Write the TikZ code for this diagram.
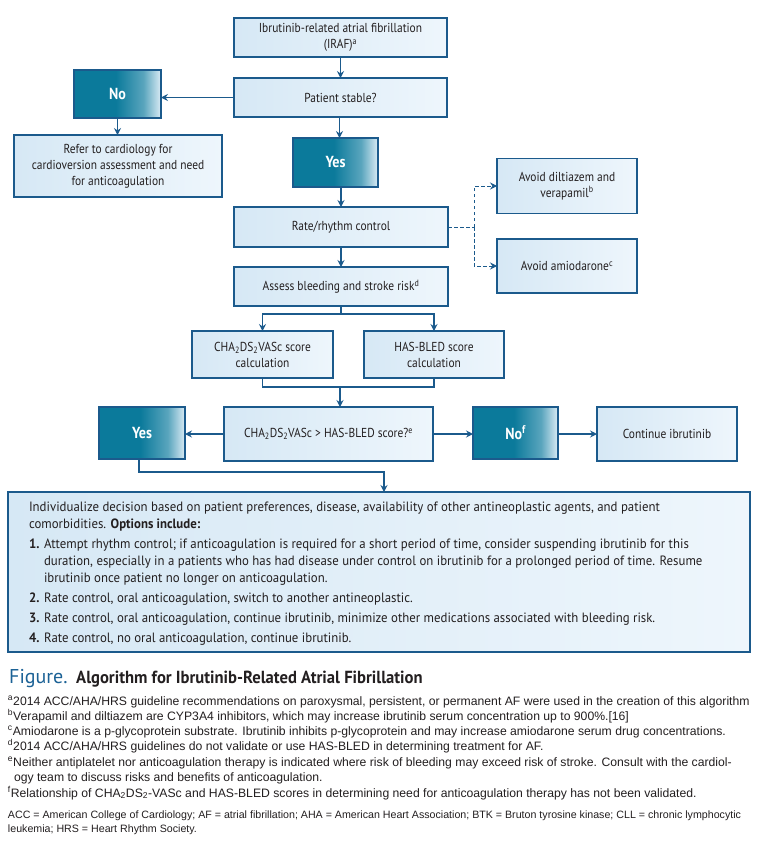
\documentclass[tikz,border=0pt]{standalone}
\usepackage{fontspec}
\setmainfont{PT Sans}
\newfontfamily\dfont[FakeStretch=0.88]{PT Sans}
\newfontfamily\efont[FakeStretch=0.95]{PT Sans}
\newfontfamily\ffont{Liberation Sans}
\newfontfamily\cfont[FakeStretch=0.95]{PT Sans}
\newfontfamily\gfont{PT Sans}
\usetikzlibrary{arrows.meta,calc}
\definecolor{bcol}{RGB}{27,90,140}
\definecolor{tealc}{RGB}{11,122,155}
\definecolor{palec}{RGB}{218,235,245}
\colorlet{midc}{tealc!62!palec}
\definecolor{lightL}{RGB}{214,232,245}
\definecolor{lightR}{RGB}{238,246,252}
\definecolor{txt}{RGB}{35,31,32}
\definecolor{figblue}{RGB}{28,98,150}
\pgfdeclarehorizontalshading{darkgrad}{100bp}{color(0bp)=(tealc); color(25bp)=(tealc); color(49bp)=(tealc); color(65bp)=(midc); color(75bp)=(palec); color(100bp)=(palec)}
\tikzset{
 lbox/.style={draw=bcol, line width=1.2pt, left color=lightL, right color=lightR, inner sep=0pt, outer sep=0pt, align=center, font=\dfont\fontsize{13}{16}\selectfont, text=txt},
 dbox/.style={draw=bcol, line width=1.2pt, shade, shading=darkgrad, inner sep=0pt, outer sep=0pt, align=center, font=\dfont\bfseries\fontsize{16}{18}\selectfont, text=white},
 arr/.style={draw=bcol, line width=1.2pt, -{Stealth[length=7pt,width=7pt,inset=2.5pt]}},
 ln/.style={draw=bcol, line width=1.2pt},
 darr/.style={draw=bcol, line width=0.9pt, dash pattern=on 3.5pt off 2.5pt, -{Stealth[length=7pt,width=7pt,inset=2.5pt]}},
 dln/.style={draw=bcol, line width=0.9pt, dash pattern=on 3.5pt off 2.5pt},
 bl/.style={anchor=base west, inner sep=0pt, outer sep=0pt, font=\efont\fontsize{13.5}{16}\selectfont, text=txt},
 fl/.style={anchor=base west, inner sep=0pt, outer sep=0pt, font=\ffont\fontsize{12.2}{14}\selectfont, text=txt},
 al/.style={anchor=base west, inner sep=0pt, outer sep=0pt, font=\ffont\fontsize{10.65}{12}\selectfont, text=txt},
}
\begin{document}
\begin{tikzpicture}[x=1pt,y=-1pt]
\fill[white] (0,0) rectangle (761,841);
\useasboundingbox (0,0) rectangle (761,841);
% boxes
\node[lbox, minimum width=213pt, minimum height=39pt] (iraf) at (340.5,37.5) {Ibrutinib-related atrial fibrillation\\(IRAF)\textsuperscript{a}};
\node[lbox, minimum width=213pt, minimum height=39pt] (stable) at (340.5,97.5) {Patient stable?};
\node[dbox, minimum width=87pt, minimum height=48pt] (no1) at (117.5,94) {No};
\node[lbox, minimum width=208pt, minimum height=62pt] (refer) at (118,166) {Refer to cardiology for\\cardioversion assessment and need\\for anticoagulation};
\node[dbox, minimum width=85pt, minimum height=49pt] (yes1) at (335.5,162.5) {Yes};
\node[lbox, minimum width=214pt, minimum height=40pt] (rate) at (341,227) {Rate/rhythm control};
\node[lbox, minimum width=214pt, minimum height=39pt] (assess) at (341,286.5) {Assess bleeding and stroke risk\textsuperscript{d}};
\node[lbox, minimum width=140pt, minimum height=55pt] (dil) at (567,186) {Avoid diltiazem and\\verapamil\textsuperscript{b}};
\node[lbox, minimum width=140pt, minimum height=54pt] (amio) at (567,266) {Avoid amiodarone\textsuperscript{c}};
\node[lbox, minimum width=141pt, minimum height=47pt] (cha) at (262.5,354.5) {CHA\textsubscript{2}DS\textsubscript{2}VASc score\\calculation};
\node[lbox, minimum width=140pt, minimum height=47pt] (has) at (434,354.5) {HAS-BLED score\\calculation};
\node[lbox, minimum width=209pt, minimum height=54pt] (dec) at (328.5,434) {CHA\textsubscript{2}DS\textsubscript{2}VASc > HAS-BLED score?\textsuperscript{e}};
\node[dbox, minimum width=86pt, minimum height=52pt] (yes2) at (142,433) {Yes};
\node[dbox, minimum width=85pt, minimum height=52pt] (no2) at (515.5,433) {No\textsuperscript{f}};
\node[lbox, minimum width=140pt, minimum height=54pt] (cont) at (667,434) {Continue ibrutinib};
\node[lbox, minimum width=742pt, minimum height=160pt] (big) at (379,572) {};
% connectors
\draw[arr] (iraf.south) -- (stable.north);
\draw[arr] (stable.west) -- (stable.west -| no1.east);
\draw[arr] (no1.south) -- (no1.south |- refer.north);
\draw[arr] ([xshift=-1pt]stable.south) -- ([xshift=-1pt]stable.south |- yes1.north);
\draw[arr] (rate.north |- yes1.south) -- (rate.north);
\draw[dln] (rate.east) -- ++(26,0) coordinate (dj);
\draw[darr] (dj) |- (dil.west);
\draw[darr] (dj) |- (amio.west);
\draw[arr] (rate.south) -- (assess.north);
\draw[ln] (assess.south) -- ++(0,8) coordinate (sp);
\draw[arr] (sp) -| (cha.north);
\draw[arr] (sp) -| (has.north);
\coordinate (mg) at (340,387);
\draw[ln] (cha.south) |- (mg) -| (has.south);
\draw[arr] (mg) -- (mg |- dec.north);
\draw[arr] (dec.west) -- (dec.west -| yes2.east);
\draw[arr] (dec.east) -- (dec.east -| no2.west);
\draw[arr] (no2.east |- cont.west) -- (cont.west);
\coordinate (jn) at (384,472);
\draw[arr] ([xshift=-3pt]yes2.south) |- (jn) -- (jn |- big.north);
% big box text
\node[bl] (t1) at (29,511) {Individualize decision based on patient preferences, disease, availability of other antineoplastic agents, and patient};
\node[bl] (t2) at (29,528) {comorbidities. \textbf{Options include:}};
\node[bl] (n1) at (29,548) {\textbf{1.}};
\node[bl] (t3) at (44,548) {Attempt rhythm control; if anticoagulation is required for a short period of time, consider suspending ibrutinib for this};
\node[bl] (t4) at (44,565) {duration, especially in a patients who has had disease under control on ibrutinib for a prolonged period of time. Resume};
\node[bl] (t5) at (44,582) {ibrutinib once patient no longer on anticoagulation.};
\node[bl] (n2) at (29,602) {\textbf{2.}};
\node[bl] (t6) at (44,602) {Rate control, oral anticoagulation, switch to another antineoplastic.};
\node[bl] (n3) at (29,622) {\textbf{3.}};
\node[bl] (t7) at (44,622) {Rate control, oral anticoagulation, continue ibrutinib, minimize other medications associated with bleeding risk.};
\node[bl] (n4) at (29,642) {\textbf{4.}};
\node[bl] (t8) at (44,642) {Rate control, no oral anticoagulation, continue ibrutinib.};
% caption
\node[anchor=base west, inner sep=0pt, text=figblue, font=\gfont\fontsize{20}{22}\selectfont] (figl) at (9,683) {Figure.};
\node[anchor=base west, inner sep=0pt, text=txt, font=\cfont\bfseries\fontsize{17.5}{20}\selectfont] (figt) at (76,683) {Algorithm for Ibrutinib-Related Atrial Fibrillation};
% footnotes
\node[fl] (fa) at (8,705) {\textsuperscript{a}2014 ACC/AHA/HRS guideline recommendations on paroxysmal, persistent, or permanent AF were used in the creation of this algorithm};
\node[fl] (fb) at (8,720) {\textsuperscript{b}Verapamil and diltiazem are CYP3A4 inhibitors, which may increase ibrutinib serum concentration up to 900\%.[16]};
\node[fl] (fc) at (8,735) {\textsuperscript{c}Amiodarone is a p-glycoprotein substrate. Ibrutinib inhibits p-glycoprotein and may increase amiodarone serum drug concentrations.};
\node[fl] (fd) at (8,750) {\textsuperscript{d}2014 ACC/AHA/HRS guidelines do not validate or use HAS-BLED in determining treatment for AF.};
\node[fl] (fe) at (8,766) {\textsuperscript{e}Neither antiplatelet nor anticoagulation therapy is indicated where risk of bleeding may exceed risk of stroke. Consult with the cardiol-};
\node[fl] (fe2) at (14,781) {ogy team to discuss risks and benefits of anticoagulation.};
\node[fl] (ff) at (8,797) {\textsuperscript{f}Relationship of CHA\textsubscript{2}DS\textsubscript{2}-VASc and HAS-BLED scores in determining need for anticoagulation therapy has not been validated.};
\node[al] (ab1) at (8,818) {ACC = American College of Cardiology; AF = atrial fibrillation; AHA = American Heart Association; BTK = Bruton tyrosine kinase; CLL = chronic lymphocytic};
\node[al] (ab2) at (8,832) {leukemia; HRS = Heart Rhythm Society.};
\end{tikzpicture}
\end{document}
